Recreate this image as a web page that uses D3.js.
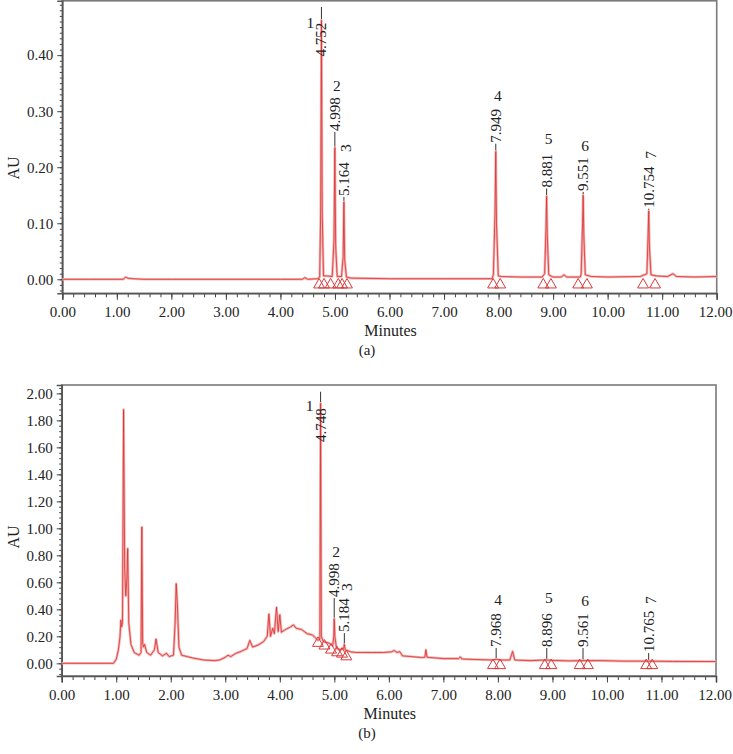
<!DOCTYPE html>
<html>
<head>
<meta charset="utf-8">
<script src="https://cdn.jsdelivr.net/npm/d3@7"></script>
<style>
  body { margin: 0; background: #fff; }
  svg { display: block; font-family: "Liberation Serif", "DejaVu Serif", serif; }
</style>
</head>
<body>
<div id="chart"></div>
<script>
// ---- chromatogram (a): [minutes, AU]
const traceA = [
  [0,0.000],[0.5,0.000],[1.0,0.000],[1.12,0.000],[1.16,0.004],[1.2,0.002],[1.3,0.001],[1.5,0.000],
  [2.0,0.000],[3.0,0.000],[4.0,0.000],[4.4,0.000],[4.45,0.003],[4.5,0.000],[4.68,0.001],
  [4.72,0.004],[4.738,0.12],[4.752,0.462],[4.766,0.12],[4.79,0.006],[4.85,0.006],[4.95,0.005],
  [4.982,0.07],[4.998,0.235],[5.013,0.06],[5.04,0.005],[5.12,0.005],[5.15,0.04],[5.164,0.138],
  [5.178,0.035],[5.21,0.004],[5.3,0.002],[6.0,0.001],[7.0,0.001],[7.88,0.001],
  [7.905,0.008],[7.935,0.12],[7.949,0.228],[7.962,0.1],[7.995,0.006],[8.05,0.005],[8.4,0.004],[8.8,0.004],
  [8.845,0.01],[8.869,0.09],[8.881,0.148],[8.893,0.08],[8.92,0.008],[9.0,0.004],[9.15,0.004],[9.2,0.008],
  [9.25,0.004],[9.5,0.004],[9.515,0.01],[9.54,0.1],[9.551,0.15],[9.563,0.08],[9.59,0.008],[9.7,0.005],
  [10.0,0.004],[10.6,0.005],[10.72,0.01],[10.742,0.08],[10.754,0.122],[10.766,0.06],[10.795,0.008],
  [10.9,0.006],[11.1,0.005],[11.2,0.01],[11.26,0.005],[11.6,0.004],[12,0.005]
];

// ---- chromatogram (b): [minutes, AU]
const traceB = [
  [0,0],[0.5,0],[0.95,0.0],[1.0,0.03],[1.04,0.1],[1.07,0.2],[1.085,0.32],[1.1,0.27],[1.115,0.3],
  [1.135,1.88],[1.155,0.7],[1.175,0.5],[1.195,0.62],[1.21,0.85],[1.23,0.3],[1.27,0.14],[1.33,0.08],
  [1.42,0.06],[1.455,0.08],[1.47,1.01],[1.485,0.15],[1.5,0.12],[1.52,0.14],[1.56,0.08],[1.63,0.06],
  [1.7,0.1],[1.73,0.18],[1.77,0.08],[1.85,0.055],[1.92,0.075],[1.97,0.05],[2.05,0.06],[2.08,0.3],
  [2.1,0.59],[2.12,0.45],[2.15,0.12],[2.2,0.06],[2.3,0.05],[2.4,0.04],[2.6,0.025],[2.8,0.02],
  [2.9,0.025],[3.0,0.045],[3.05,0.06],[3.1,0.05],[3.2,0.075],[3.3,0.09],[3.4,0.11],[3.45,0.17],
  [3.5,0.12],[3.6,0.135],[3.7,0.16],[3.77,0.2],[3.8,0.365],[3.83,0.2],[3.87,0.26],[3.9,0.22],
  [3.94,0.415],[3.97,0.235],[4.0,0.36],[4.03,0.23],[4.1,0.25],[4.2,0.27],[4.25,0.285],[4.3,0.26],
  [4.4,0.25],[4.5,0.22],[4.6,0.21],[4.7,0.17],[4.735,0.18],[4.748,1.926],[4.762,0.2],[4.8,0.16],
  [4.9,0.15],[4.97,0.13],[4.99,0.2],[4.998,0.33],[5.01,0.2],[5.04,0.11],[5.1,0.1],[5.17,0.11],
  [5.184,0.14],[5.2,0.1],[5.3,0.085],[5.4,0.08],[5.5,0.08],[5.7,0.08],[5.9,0.08],[6.05,0.085],
  [6.1,0.095],[6.15,0.08],[6.2,0.087],[6.25,0.055],[6.4,0.05],[6.6,0.043],[6.66,0.045],[6.68,0.1],
  [6.7,0.045],[7.0,0.035],[7.28,0.035],[7.31,0.048],[7.34,0.032],[7.6,0.028],[7.9,0.025],
  [7.968,0.03],[8.05,0.024],[8.22,0.025],[8.27,0.088],[8.31,0.024],[8.6,0.02],[8.896,0.025],
  [9.0,0.022],[9.3,0.018],[9.561,0.02],[9.9,0.02],[10.3,0.016],[10.765,0.016],[11.2,0.014],[12,0.013]
];

// peak labels: number, retention time text, apex (AU), label bottom (AU), number centre (AU)
const peakNums   = ["1","2","3","4","5","6","7"];
const peakRtA    = ["4.752","4.998","5.164","7.949","8.881","9.551","10.754"];
const peakApexA  = [0.462, 0.235, 0.138, 0.228, 0.148, 0.15, 0.122];
const labelAtA   = [0.396, 0.263, 0.147, 0.242, 0.162, 0.156, 0.126];
const numAtA     = [0.458, 0.346, 0.234, 0.328, 0.252, 0.239, 0.222];
const lineTopA   = [0.486, 0.263, 0.147, 0.242, 0.162, 0.156, 0.126];

const peakRtB    = ["4.748","4.998","5.184","7.968","8.896","9.561","10.765"];
const peakApexB  = [1.926, 0.33, 0.14, 0.03, 0.025, 0.02, 0.016];
const labelAtB   = [1.632, 0.484, 0.224, 0.113, 0.113, 0.113, 0.076];
const numAtB     = [1.913, 0.825, 0.565, 0.476, 0.484, 0.469, 0.469];
const lineTopB   = [2.012, 0.484, 0.224, 0.113, 0.113, 0.113, 0.076];

// integration markers [minutes, AU]
const marksA = [[4.71,0],[4.80,0],[4.92,0],[5.06,0],[5.13,0],[5.22,0],[7.90,0],[8.03,0],
                [8.82,0],[8.96,0],[9.46,0],[9.62,0],[10.65,0],[10.87,0]];
const marksB = [[4.70,0.19],[4.82,0.17],[4.94,0.14],[5.05,0.12],[5.14,0.11],[5.22,0.09],
                [7.91,0.025],[8.04,0.025],[8.86,0.025],[8.98,0.025],[9.50,0.025],[9.65,0.025],
                [10.72,0.025],[10.83,0.025]];

// rotated peak numbers (as printed)
const rotatedNum = [false, false, true, false, false, false, true];

const W = 733, H = 754;
const svg = d3.select("#chart").append("svg").attr("width", W).attr("height", H);

function drawChart(cfg){
  const g = svg.append("g");
  const x = d3.scaleLinear().domain([0, 12]).range([cfg.left, cfg.right]);
  const y = d3.scaleLinear().domain(cfg.yDomain).range([cfg.bottom, cfg.top]);

  // frame
  g.append("rect")
    .attr("x", cfg.left).attr("y", cfg.top)
    .attr("width", cfg.right - cfg.left).attr("height", cfg.bottom - cfg.top)
    .attr("fill", "none").attr("stroke", "#7a7a7a").attr("stroke-width", 1.6);

  // minor ticks
  const xMinor = d3.axisBottom(x).tickValues(d3.range(0, 12.001, 0.2)).tickSize(4).tickFormat("");
  const yMinor = d3.axisLeft(y).tickValues(cfg.yMinor).tickSize(2.5).tickFormat("");
  g.append("g").attr("transform", "translate(0," + cfg.bottom + ")").call(xMinor)
    .call(s => s.select(".domain").remove())
    .selectAll("line").attr("stroke", "#444");
  g.append("g").attr("transform", "translate(" + cfg.left + ",0)").call(yMinor)
    .call(s => s.select(".domain").remove())
    .selectAll("line").attr("stroke", "#444");

  // major ticks + labels
  const xAxis = d3.axisBottom(x).tickValues(d3.range(0, 13, 1)).tickSize(6.5).tickPadding(7)
                  .tickFormat(d3.format(".2f"));
  const yAxis = d3.axisLeft(y).tickValues(cfg.yMajor).tickSize(5).tickPadding(4)
                  .tickFormat(d3.format(".2f"));
  const gx = g.append("g").attr("transform", "translate(0," + cfg.bottom + ")").call(xAxis);
  const gy = g.append("g").attr("transform", "translate(" + cfg.left + ",0)").call(yAxis);
  [gx, gy].forEach(a => {
    a.attr("font-family", null);
    a.select(".domain").attr("stroke", "#555").attr("stroke-width", 1.6);
    a.selectAll("line").attr("stroke", "#444");
    a.selectAll("text").attr("fill", "#222").style("font-size", "15px");
  });
  // keep the last x label inside the page
  gx.selectAll("text").filter(d => d === 12).attr("dx", -1.5);

  g.append("text").attr("x", (cfg.left + cfg.right)/2 + 1).attr("y", cfg.bottom + 43)
    .attr("text-anchor", "middle").attr("fill", "#222").style("font-size", "16px").text("Minutes");
  g.append("text").attr("transform", "translate(13," + cfg.auY + ") rotate(-90)")
    .attr("text-anchor", "middle").attr("dominant-baseline", "central")
    .attr("fill", "#222").style("font-size", "16px").text("AU");
  g.append("text").attr("x", 367).attr("y", cfg.bottom + 62)
    .attr("text-anchor", "middle").attr("fill", "#222").style("font-size", "15px").text(cfg.tag);

  // peak marker lines
  const rtNum = cfg.rt.map(Number);
  g.selectAll(".pline").data(rtNum).enter().append("line")
    .attr("x1", d => x(d)).attr("x2", d => x(d))
    .attr("y1", (d, i) => y(cfg.lineTop[i])).attr("y2", (d, i) => y(cfg.apex[i]))
    .attr("stroke", "#333").attr("stroke-width", 1);

  // trace
  const line = d3.line().x(d => x(d[0])).y(d => y(d[1]));
  g.append("path").datum(cfg.trace).attr("d", line)
    .attr("fill", "none").attr("stroke", "#f5b3b3").attr("stroke-width", 2.6)
    .attr("stroke-linejoin", "round");
  g.append("path").datum(cfg.trace).attr("d", line)
    .attr("fill", "none").attr("stroke", "#d8302f").attr("stroke-width", 0.8)
    .attr("stroke-linejoin", "round");

  // integration triangles
  const tri = d3.symbol().type(d3.symbolTriangle).size(52);
  g.selectAll(".mark").data(cfg.marks).enter().append("path")
    .attr("d", tri)
    .attr("transform", d => "translate(" + x(d[0]) + "," + (y(d[1]) + 5.5) + ")")
    .attr("fill", "none").attr("stroke", "#d93a3a").attr("stroke-width", 1);

  // retention time labels
  g.selectAll(".rt").data(cfg.rt).enter().append("text")
    .attr("transform", (d, i) => "translate(" + x(rtNum[i]) + "," + (y(cfg.labelAt[i]) - 1) + ") rotate(-90)")
    .attr("text-anchor", "start").attr("dominant-baseline", "central")
    .attr("fill", "#222").style("font-size", "15px").text(d => d);

  // peak numbers
  g.selectAll(".pnum").data(peakNums).enter().append("text")
    .attr("transform", (d, i) => {
      const px = x(rtNum[i]) + (i === 0 ? -11 : 2);
      const py = y(cfg.numAt[i]);
      return "translate(" + px + "," + py + ")" + (rotatedNum[i] ? " rotate(-90)" : "");
    })
    .attr("text-anchor", "middle").attr("dominant-baseline", "central")
    .attr("fill", "#222").style("font-size", "15.5px").text(d => d);
}

drawChart({
  left: 62.3, right: 716.7, top: 0.8, bottom: 293.3,
  yDomain: [-0.025, 0.497],
  yMajor: [0, 0.1, 0.2, 0.3, 0.4],
  yMinor: d3.range(-2, 50).map(d => d / 100),
  auY: 168, tag: "(a)",
  trace: traceA, marks: marksA,
  rt: peakRtA, apex: peakApexA, labelAt: labelAtA, numAt: numAtA, lineTop: lineTopA
});

drawChart({
  left: 61.7, right: 716, top: 385, bottom: 676,
  yDomain: [-0.094, 2.062],
  yMajor: d3.range(0, 11).map(d => d / 5),
  yMinor: d3.range(-2, 52).map(d => d * 0.04),
  auY: 537, tag: "(b)",
  trace: traceB, marks: marksB,
  rt: peakRtB, apex: peakApexB, labelAt: labelAtB, numAt: numAtB, lineTop: lineTopB
});
</script>
</body>
</html>
